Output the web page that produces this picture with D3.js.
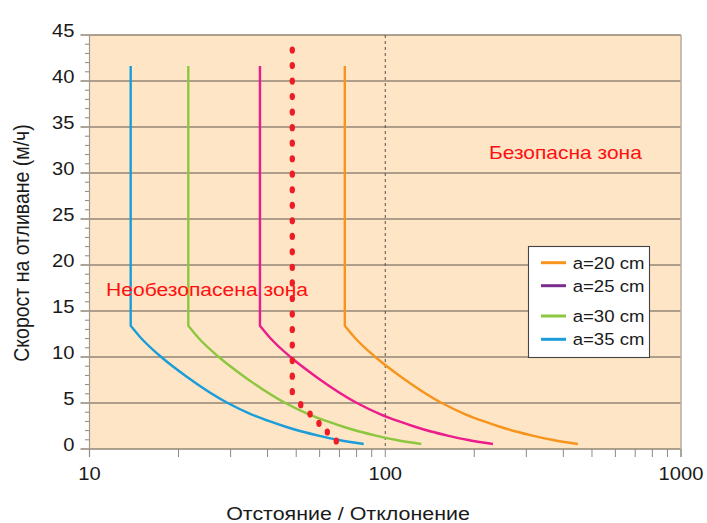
<!DOCTYPE html>
<html><head><meta charset="utf-8">
<script src="https://cdn.jsdelivr.net/npm/d3@7/dist/d3.min.js"></script>
<style>
html,body{margin:0;padding:0;background:#fff;}
svg{display:block;}
text{font-family:"Liberation Sans",Arial,Helvetica,sans-serif;}
</style></head>
<body>
<svg id="chart" width="707" height="523"></svg>
<script>
// ---------- data ----------
const seriesNames = ["a=20 cm", "a=25 cm", "a=30 cm", "a=35 cm"];
const lineColors = ["#F7941D", "#EC1C8C", "#8DC63F", "#1B9DD9"];
const legendColors = ["#F7941D", "#7B2D8E", "#8DC63F", "#1B9DD9"];

// speed values shared by all curves (top of vertical part, bend, then the decay)
const curveY = [41.63, 13.4, 12.1, 10.0, 7.86, 5.0, 3.8, 2.97, 2.42, 1.9, 1.4, 1.0, 0.54];
const a20X = [72.99, 72.99, 78.92, 92.58, 112.92, 155.35, 185.86, 217.16, 244.01, 276.43, 320.50, 365.84, 447.88];
const a25X = [37.70, 37.70, 40.76, 47.82, 58.33, 80.24, 96.00, 112.17, 126.04, 142.79, 165.55, 188.97, 231.35];
const a30X = [21.58, 21.58, 23.33, 27.37, 33.38, 45.93, 54.94, 64.20, 72.14, 81.72, 94.75, 108.15, 132.40];
const a35X = [13.78, 13.78, 14.90, 17.48, 21.32, 29.33, 35.09, 41.00, 46.07, 52.19, 60.51, 69.07, 84.56];
const seriesX = [a20X, a25X, a30X, a35X];

// red dotted limit line
const limitX = [48.5, 48.5, 48.5, 48.5, 48.5, 48.5, 48.5, 48.5, 48.5, 48.5, 48.5, 48.5,
                48.5, 48.5, 48.5, 48.5, 48.5, 48.5, 48.5, 48.5, 48.5, 48.5, 48.5,
                51.8, 55.7, 59.7, 63.7, 68.3];
const limitY = [43.37, 41.68, 39.99, 38.31, 36.62, 34.93, 33.24, 31.55, 29.87, 28.18, 26.49, 24.80,
                23.11, 21.43, 19.74, 18.05, 16.36, 14.67, 12.99, 11.30, 9.61, 7.92, 6.23,
                4.82, 3.80, 2.79, 1.85, 0.87];

const xMajorTicks = [10, 100, 1000];
const xMinorTicks = [20, 30, 40, 50, 60, 70, 80, 90, 200, 300, 400, 500, 600, 700, 800, 900];
const yMajorTicks = [0, 5, 10, 15, 20, 25, 30, 35, 40, 45];
const yMinorTicks = [1, 2, 3, 4, 6, 7, 8, 9, 11, 12, 13, 14, 16, 17, 18, 19, 21, 22, 23, 24,
                     26, 27, 28, 29, 31, 32, 33, 34, 36, 37, 38, 39, 41, 42, 43, 44];

const xTitle = "Отстояние / Отклонение";
const yTitle = "Скорост на отливане (м/ч)";
const safeLabel = "Безопасна зона";
const unsafeLabel = "Необезопасена зона";

// ---------- layout ----------
const svg = d3.select("#chart");
const L = 89.5, R = 681, T = 35, B = 449;
const SX = 1.14; // horizontal text stretch of the original
const x = d3.scaleLog().domain([10, 1000]).range([L, R]);
const y = d3.scaleLinear().domain([0, 45]).range([B, T]);

const gridCol = "#928574";

// plot background
svg.append("rect").attr("x", L).attr("y", T).attr("width", R - L).attr("height", B - T)
  .attr("fill", "#FDE5C5");

// horizontal gridlines (extend left as major ticks)
svg.append("g").selectAll("line").data(yMajorTicks).join("line")
  .attr("x1", L - 9).attr("x2", R)
  .attr("y1", d => y(d)).attr("y2", d => y(d))
  .attr("stroke", gridCol).attr("stroke-width", 1.3);

// y minor ticks
svg.append("g").selectAll("line").data(yMinorTicks).join("line")
  .attr("x1", L - 4.5).attr("x2", L)
  .attr("y1", d => y(d)).attr("y2", d => y(d))
  .attr("stroke", gridCol).attr("stroke-width", 1);

// left axis line & right border
svg.append("line").attr("x1", L).attr("x2", L).attr("y1", T).attr("y2", B + 8)
  .attr("stroke", "#a49a8c").attr("stroke-width", 1.2);
svg.append("line").attr("x1", R).attr("x2", R).attr("y1", T).attr("y2", B + 8)
  .attr("stroke", "#b9ad9d").attr("stroke-width", 1.5);

// x ticks
svg.append("g").selectAll("line").data(xMajorTicks.concat(xMinorTicks)).join("line")
  .attr("x1", d => x(d)).attr("x2", d => x(d))
  .attr("y1", B).attr("y2", B + 8)
  .attr("stroke", "#8a8a8a").attr("stroke-width", 1);

// dashed line at 100
svg.append("line").attr("x1", x(100)).attr("x2", x(100)).attr("y1", T).attr("y2", B)
  .attr("stroke", "#5a5048").attr("stroke-width", 1).attr("stroke-dasharray", "3,3");

// y tick labels
svg.append("g").selectAll("text").data(yMajorTicks).join("text")
  .attr("transform", d => `translate(74.5,${y(d) + 1.5}) scale(${SX},1)`)
  .attr("text-anchor", "end").attr("font-size", 17.7).attr("fill", "#1a1a1a")
  .text(d => d);

// x tick labels
svg.append("g").selectAll("text").data(xMajorTicks).join("text")
  .attr("transform", d => `translate(${x(d)},480) scale(${SX},1)`)
  .attr("text-anchor", "middle").attr("font-size", 17.7).attr("fill", "#1a1a1a")
  .text(d => d);

// axis titles
svg.append("text").attr("transform", `translate(348,519.5) scale(${SX},1)`)
  .attr("text-anchor", "middle").attr("font-size", 18.8).attr("fill", "#1a1a1a")
  .text(xTitle);
svg.append("text").attr("transform", `translate(29,243) rotate(-90) scale(1,${SX})`)
  .attr("text-anchor", "middle").attr("font-size", 19.5).attr("fill", "#1a1a1a")
  .text(yTitle);

// zone labels
svg.append("text").attr("transform", `translate(489,159) scale(${SX},1)`)
  .attr("font-size", 18.4).attr("fill", "#FF1010").text(safeLabel);

// curves
const lineLin = d3.line().x(d => x(d[0])).y(d => y(d[1]));
const lineSmooth = d3.line().x(d => x(d[0])).y(d => y(d[1])).curve(d3.curveMonotoneX);
seriesNames.forEach((name, i) => {
  const pts = seriesX[i].map((v, j) => [v, curveY[j]]);
  const d = lineLin(pts.slice(0, 2)) + lineSmooth(pts.slice(1)).replace(/^M/, "L");
  svg.append("path").attr("d", d).attr("fill", "none")
    .attr("stroke", lineColors[i]).attr("stroke-width", 2.4)
    .attr("stroke-linejoin", "miter");
});

// red dots
svg.append("g").selectAll("ellipse").data(limitX.map((v, j) => [v, limitY[j]])).join("ellipse")
  .attr("cx", d => x(d[0])).attr("cy", d => y(d[1]))
  .attr("rx", 2.7).attr("ry", 3.6).attr("fill", "#EE1C25");

svg.append("text").attr("transform", `translate(106,295.5) scale(${SX},1)`)
  .attr("font-size", 18.5).attr("fill", "#FF1010").text(unsafeLabel);

// legend
const lg = svg.append("g");
lg.append("rect").attr("x", 528.5).attr("y", 246.5).attr("width", 121).attr("height", 111)
  .attr("fill", "#fff").attr("stroke", "#444").attr("stroke-width", 1.1);
const rowY = [262.7, 285.7, 316, 339.3];
seriesNames.forEach((name, i) => {
  lg.append("line").attr("x1", 541).attr("x2", 566).attr("y1", rowY[i]).attr("y2", rowY[i])
    .attr("stroke", legendColors[i]).attr("stroke-width", 3);
  lg.append("text").attr("transform", `translate(572.7,${rowY[i] + 6}) scale(${SX},1)`)
    .attr("font-size", 16.3).attr("fill", "#1a1a1a").text(name);
});
</script>
</body></html>
